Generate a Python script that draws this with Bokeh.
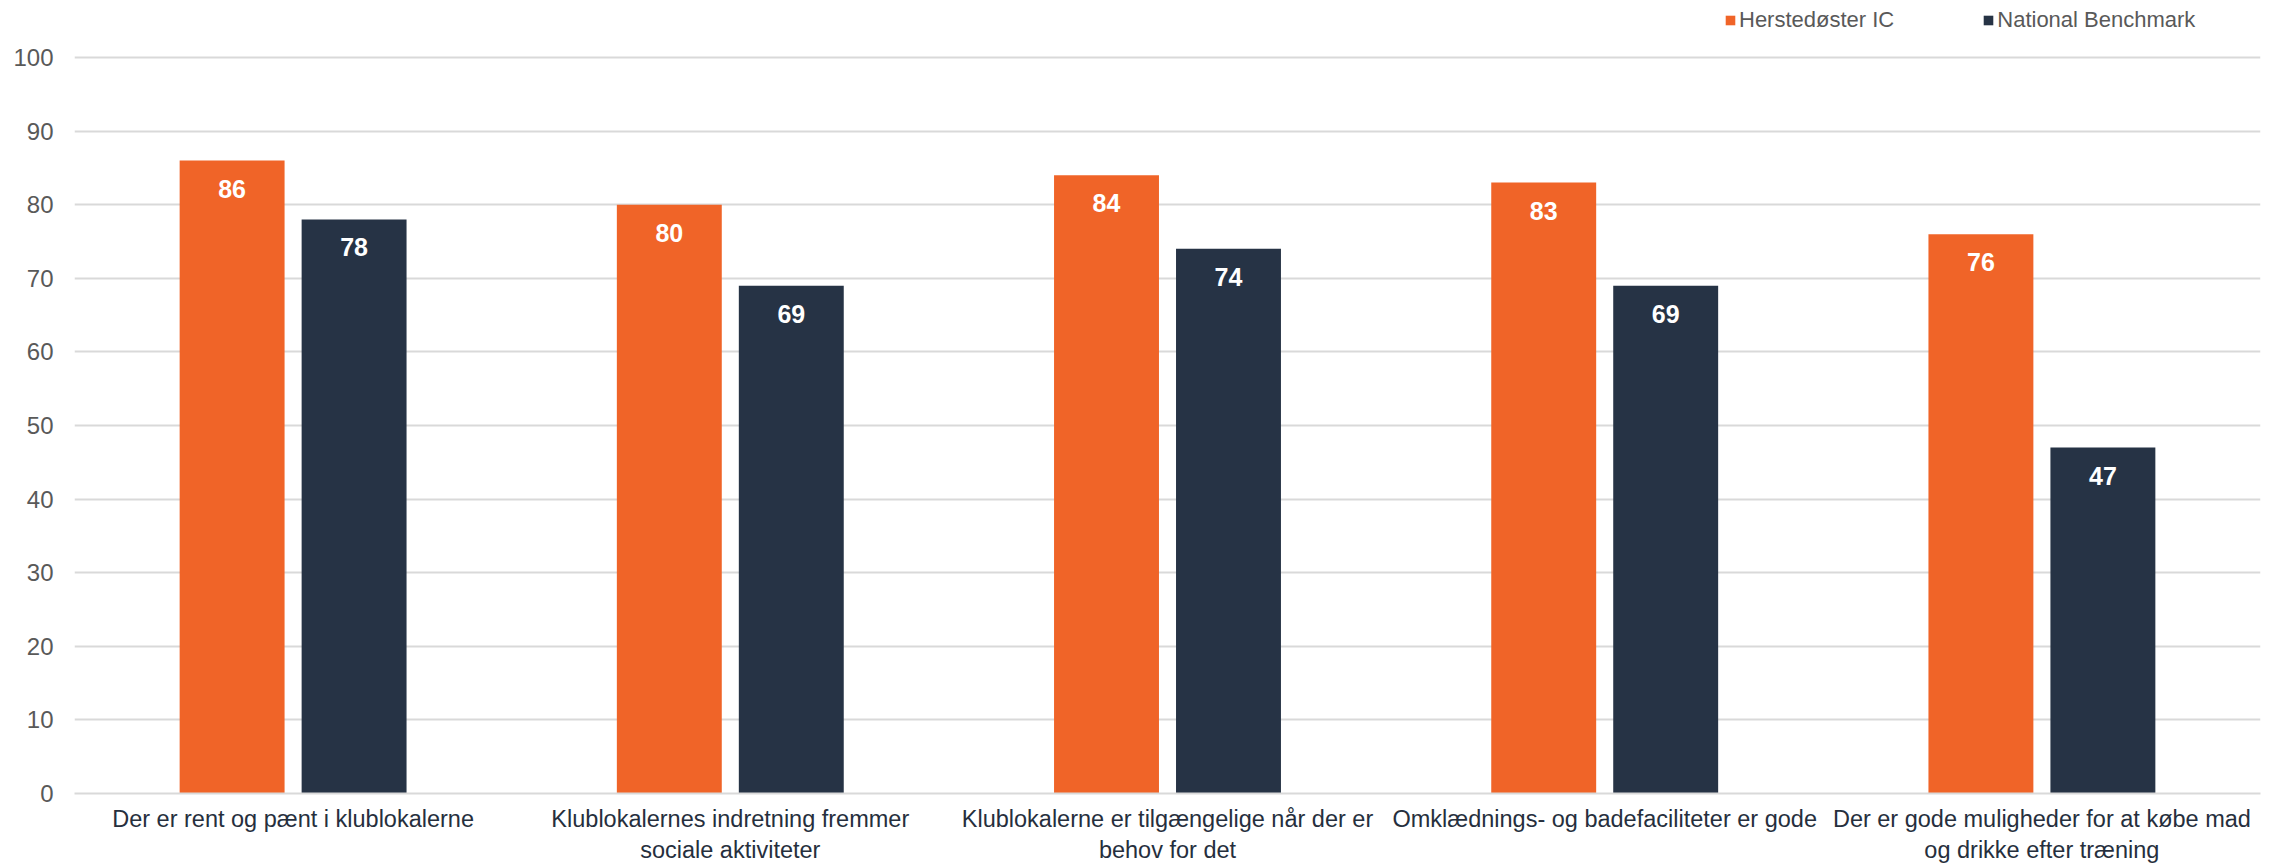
from bokeh.plotting import figure
from bokeh.models import ColumnDataSource, FactorRange, Range1d, FixedTicker, Legend, LegendItem
from bokeh.transform import dodge
from bokeh.core.properties import value
from bokeh.embed import file_html
from bokeh.resources import INLINE

categories = [
    "Der er rent og pænt i klublokalerne",
    "Klublokalernes indretning fremmer\nsociale aktiviteter",
    "Klublokalerne er tilgængelige når der er\nbehov for det",
    "Omklædnings- og badefaciliteter er gode",
    "Der er gode muligheder for at købe mad\nog drikke efter træning",
]
herstedoster = [86, 80, 84, 83, 76]
national = [78, 69, 74, 69, 47]
series_names = ["Herstedøster IC", "National Benchmark"]
y_ticks = [0, 10, 20, 30, 40, 50, 60, 70, 80, 90, 100]

ORANGE = "#F06428"
NAVY = "#263345"
FONT = "Liberation Sans"

FRAME_H = 793
TOP_GAP = 57  # pixels between frame top and the 100 gridline (room for legend)
y_end = 100 * FRAME_H / (FRAME_H - TOP_GAP)

src = ColumnDataSource(dict(
    cat=categories,
    h=herstedoster,
    n=national,
    h_lbl=[str(v) for v in herstedoster],
    n_lbl=[str(v) for v in national],
))

p = figure(
    x_range=FactorRange(*categories, range_padding=0),
    y_range=Range1d(0, y_end),
    frame_width=2186, frame_height=FRAME_H,
    output_backend="svg", toolbar_location=None,
    min_border_left=74, min_border_right=17, min_border_top=0, min_border_bottom=40,
)
p.outline_line_color = None
p.background_fill_color = "white"

off = 0.1395
bw = 0.24
r1 = p.vbar(x=dodge("cat", -off, range=p.x_range), top="h", width=bw, source=src,
            fill_color=ORANGE, line_color=None)
r2 = p.vbar(x=dodge("cat", off, range=p.x_range), top="n", width=bw, source=src,
            fill_color=NAVY, line_color=None)

p.text(x=dodge("cat", -off, range=p.x_range), y="h", text="h_lbl", source=src,
       text_color="white", text_font=value(FONT), text_font_style="bold",
       text_font_size="25px", text_align="center", text_baseline="middle", y_offset=28)
p.text(x=dodge("cat", off, range=p.x_range), y="n", text="n_lbl", source=src,
       text_color="white", text_font=value(FONT), text_font_style="bold",
       text_font_size="25px", text_align="center", text_baseline="middle", y_offset=28)

# grid
p.xgrid.grid_line_color = None
p.ygrid.ticker = FixedTicker(ticks=y_ticks)
p.ygrid.grid_line_color = "#d9d9d9"
p.ygrid.grid_line_width = 2

# y axis
p.yaxis.ticker = FixedTicker(ticks=y_ticks)
p.yaxis.axis_line_color = None
p.yaxis.major_tick_line_color = None
p.yaxis.minor_tick_line_color = None
p.yaxis.major_label_text_font = FONT
p.yaxis.major_label_text_font_size = "24px"
p.yaxis.major_label_text_color = "#595959"
p.yaxis.major_label_standoff = 15

# x axis
p.xaxis.axis_line_color = "#d9d9d9"
p.xaxis.axis_line_width = 2
p.xaxis.major_tick_line_color = None
p.xaxis.minor_tick_line_color = None
p.xaxis.major_label_text_font = FONT
p.xaxis.major_label_text_font_size = "23.5px"
p.xaxis.major_label_text_color = "#262f3d"
p.xaxis.major_label_standoff = 6

legend = Legend(
    items=[LegendItem(label=series_names[0], renderers=[r1]),
           LegendItem(label=series_names[1], renderers=[r2])],
    orientation="horizontal",
    location=(1650, FRAME_H - 33),
    glyph_width=12, glyph_height=12,
    label_text_font=FONT, label_text_font_size="22px", label_text_color="#595959",
    label_standoff=3, spacing=88, padding=0, margin=0,
    border_line_color=None, background_fill_alpha=0,
)
p.add_layout(legend, "center")

open("out.html", "w").write(file_html(p, INLINE))
